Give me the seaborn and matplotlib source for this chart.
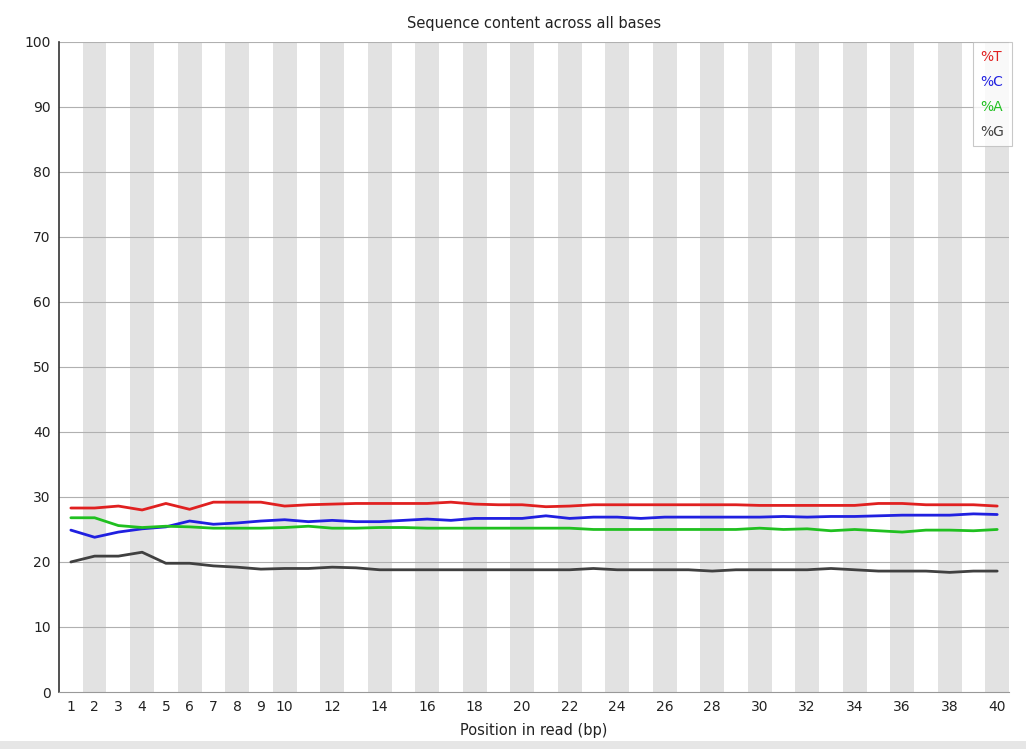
import numpy as np
import pandas as pd
import matplotlib
matplotlib.use("Agg")
import matplotlib.pyplot as plt
import seaborn as sns

positions = list(range(1, 41))
pct_T = [28.3, 28.3, 28.6, 28.0, 29.0, 28.1, 29.2, 29.2, 29.2, 28.6,
         28.8, 28.9, 29.0, 29.0, 29.0, 29.0, 29.2, 28.9, 28.8, 28.8,
         28.5, 28.6, 28.8, 28.8, 28.8, 28.8, 28.8, 28.8, 28.8, 28.7,
         28.7, 28.7, 28.7, 28.7, 29.0, 29.0, 28.8, 28.8, 28.8, 28.6]
pct_C = [24.9, 23.8, 24.6, 25.1, 25.4, 26.3, 25.8, 26.0, 26.3, 26.5,
         26.2, 26.4, 26.2, 26.2, 26.4, 26.6, 26.4, 26.7, 26.7, 26.7,
         27.1, 26.7, 26.9, 26.9, 26.7, 26.9, 26.9, 26.9, 26.9, 26.9,
         27.0, 26.9, 27.0, 27.0, 27.1, 27.2, 27.2, 27.2, 27.4, 27.3]
pct_A = [26.8, 26.8, 25.6, 25.3, 25.5, 25.4, 25.2, 25.2, 25.2, 25.3,
         25.5, 25.2, 25.2, 25.3, 25.3, 25.2, 25.2, 25.2, 25.2, 25.2,
         25.2, 25.2, 25.0, 25.0, 25.0, 25.0, 25.0, 25.0, 25.0, 25.2,
         25.0, 25.1, 24.8, 25.0, 24.8, 24.6, 24.9, 24.9, 24.8, 25.0]
pct_G = [20.0, 20.9, 20.9, 21.5, 19.8, 19.8, 19.4, 19.2, 18.9, 19.0,
         19.0, 19.2, 19.1, 18.8, 18.8, 18.8, 18.8, 18.8, 18.8, 18.8,
         18.8, 18.8, 19.0, 18.8, 18.8, 18.8, 18.8, 18.6, 18.8, 18.8,
         18.8, 18.8, 19.0, 18.8, 18.6, 18.6, 18.6, 18.4, 18.6, 18.6]
series_names = ["%T", "%C", "%A", "%G"]
series_colors = ["#e02020", "#2020e0", "#20c020", "#404040"]
x_tick_labels = [1, 2, 3, 4, 5, 6, 7, 8, 9, 10] + list(range(12, 41, 2))
y_ticks = list(range(0, 101, 10))

df = pd.DataFrame({
    "pos": positions * 4,
    "pct": pct_T + pct_C + pct_A + pct_G,
    "base": sum([[n] * len(positions) for n in series_names], []),
})

sns.set_style("white")
plt.rcParams["font.family"] = ["DejaVu Sans"]

fig = plt.figure(figsize=(10.26, 7.49), dpi=100)
# light grey strip at the bottom of the screenshot
fig.patches.append(plt.Rectangle((0, 0), 1, 0.011, transform=fig.transFigure,
                                 color="#e6e6e6", lw=0, zorder=0))
ax = fig.add_axes([0.0575, 0.0761, 0.926, 0.868])

for p in positions:
    if p % 2 == 0:
        ax.axvspan(p - 0.5, p + 0.5, color="#e2e2e2", lw=0, zorder=0)

for v in y_ticks[1:]:
    ax.axhline(v, color="#b0b0b0", lw=0.8, zorder=1)

sns.lineplot(data=df, x="pos", y="pct", hue="base", palette=series_colors,
             hue_order=series_names, lw=2, ax=ax, legend=False, zorder=3)

ax.set_xlim(0.5, 40.5)
ax.set_ylim(0, 100)
ax.set_xticks(x_tick_labels)
ax.set_xticklabels([str(t) for t in x_tick_labels], fontsize=10, color="#222222")
ax.set_yticks(y_ticks)
ax.set_yticklabels([str(t) for t in y_ticks], fontsize=10, color="#222222")
ax.tick_params(axis="x", length=0, pad=6)
ax.tick_params(axis="y", length=0, pad=6)
ax.set_xlabel("Position in read (bp)", fontsize=10.5, color="#222222", labelpad=6)
ax.set_ylabel("")
ax.set_title("Sequence content across all bases", fontsize=10.5, color="#222222", pad=10)

for s in ["top", "right"]:
    ax.spines[s].set_visible(False)
ax.spines["left"].set_color("#333333")
ax.spines["bottom"].set_color("#999999")
ax.spines["left"].set_linewidth(1.2)

handles = [plt.Line2D([], [], lw=0) for _ in series_names]
leg = ax.legend(handles, series_names, loc="upper right", handlelength=0,
                handletextpad=0, fontsize=10, frameon=True, fancybox=False,
                bbox_to_anchor=(1.003, 1.0), borderaxespad=0,
                labelspacing=0.8, borderpad=0.55)
leg.get_frame().set_edgecolor("#bbbbbb")
leg.get_frame().set_linewidth(0.8)
leg.set_zorder(5)
for txt, c in zip(leg.get_texts(), series_colors):
    txt.set_color(c)

fig.savefig("out.png", dpi=100)
